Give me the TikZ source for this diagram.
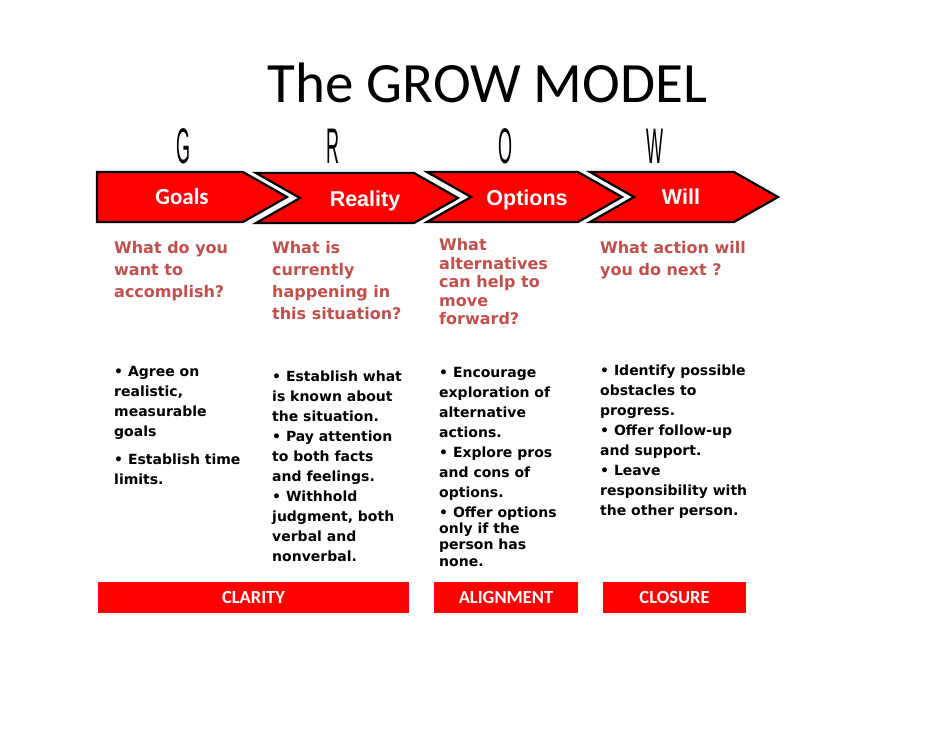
\documentclass[tikz,border=0pt]{standalone}
\usepackage{fontspec}
\usepackage{graphicx}
\setmainfont{DejaVu Sans}
\newfontfamily\calibri{Carlito}
\newfontfamily\arialf{Liberation Sans}
\newfontfamily\dvs{DejaVu Sans}
\definecolor{chevred}{RGB}{255,0,0}
\definecolor{qred}{RGB}{192,80,77}
\begin{document}
\begin{tikzpicture}[x=1pt,y=-1pt,
  chev/.style={fill=chevred, draw=black, line width=2.2pt, line join=miter},
  qtext/.style={anchor=north west, inner sep=0, align=left, text=qred, font=\dvs\bfseries\fontsize{16}{22}\selectfont},
  btext/.style={anchor=north west, inner sep=0, align=left, font=\dvs\bfseries\fontsize{14}{20}\selectfont},
  bar/.style={fill=chevred, draw=none, minimum height=31, inner sep=0, text=white, font=\calibri\bfseries\fontsize{18.5}{20}\selectfont},
  clab/.style={anchor=base, text=white, inner sep=0, font=\arialf\bfseries\fontsize{21.5}{24}\selectfont},
  letter/.style={anchor=base, inner sep=0}]
\useasboundingbox (0,0) rectangle (942,728);
\fill[white] (0,0) rectangle (942,728);
% title
\node[anchor=base, inner sep=0, font=\calibri\fontsize{57}{60}\selectfont] (title) at (487.5,102) {The GROW MODEL};
% GROW letters
\node[letter] (lg) at (183,163) {\scalebox{0.36}[1]{\arialf\fontsize{50}{50}\selectfont G}};
\node[letter] (lr) at (333,163) {\scalebox{0.36}[1]{\arialf\fontsize{50}{50}\selectfont R}};
\node[letter] (lo) at (505,163) {\scalebox{0.36}[1]{\arialf\fontsize{50}{50}\selectfont O}};
\node[letter] (lw) at (655,163) {\scalebox{0.36}[1]{\arialf\fontsize{50}{50}\selectfont W}};
% chevrons
\draw[chev] (97,172) -- (243,172) -- (287,197) -- (243,222) -- (97,222) -- cycle;
\draw[chev] (256,173) -- (414,173) -- (458,198) -- (414,223) -- (256,223) -- (300,198) -- cycle;
\draw[chev] (427,172) -- (578,172) -- (622,197) -- (578,222) -- (427,222) -- (471,197) -- cycle;
\draw[chev] (590,172) -- (734,172) -- (778,197) -- (734,222) -- (590,222) -- (634,197) -- cycle;
\node[clab, font=\calibri\bfseries\fontsize{23}{24}\selectfont] (goals) at (182,204.5) {Goals};
\node[clab] (reality) at (365,206) {Reality};
\node[clab] (options) at (527,205) {Options};
\node[clab] (will) at (681,204.5) {Will};
% questions
\node[qtext] (q1) at (114,241.5) {What do you\\want to\\accomplish?};
\node[qtext] (q2) at (272,241.5) {What is\\currently\\happening in\\this situation?};
\node[qtext, font=\dvs\bfseries\fontsize{16}{18.5}\selectfont] (q3) at (439,238.5) {What\\alternatives\\can help to\\move\\forward?};
\node[qtext] (q4) at (600,241.5) {What action will\\you do next ?};
% bullets
\node[btext] (b1) at (114,366) {• Agree on\\realistic,\\measurable\\goals\\[8pt]• Establish time\\limits.};
\node[btext] (b2) at (272,371) {• Establish what\\is known about\\the situation.\\• Pay attention\\to both facts\\and feelings.\\• Withhold\\judgment, both\\verbal and\\nonverbal.};
\node[btext] (b3) at (439,367) {• Encourage\\exploration of\\alternative\\actions.\\• Explore pros\\and cons of\\options.\\• Offer options\\[-4pt]only if the\\[-4pt]person has\\[-3pt]none.};
\node[btext] (b4) at (600,365) {• Identify possible\\obstacles to\\progress.\\• Offer follow-up\\and support.\\• Leave\\responsibility with\\the other person.};
% bars
\node[bar, minimum width=311] (clarity) at (253.5,597.5) {CLARITY};
\node[bar, minimum width=144] (alignment) at (506,597.5) {ALIGNMENT};
\node[bar, minimum width=143] (closure) at (674.5,597.5) {CLOSURE};
\end{tikzpicture}
\end{document}
